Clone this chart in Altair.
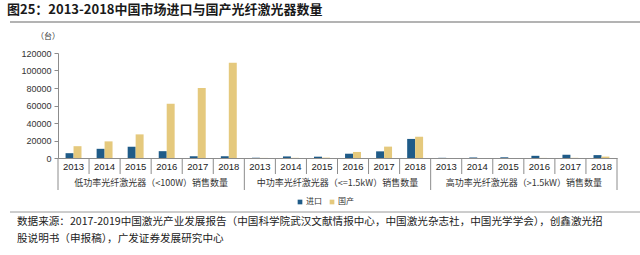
import altair as alt
import pandas as pd

groups = ["低功率光纤激光器（<100W）销售数量",
          "中功率光纤激光器（<=1.5kW）销售数量",
          "高功率光纤激光器（>1.5kW）销售数量"]
years = ["2013", "2014", "2015", "2016", "2017", "2018"]
series = ["进口", "国产"]

low_import = [5500, 10500, 13000, 7800, 2000, 2000]
low_domestic = [13500, 19000, 27000, 62000, 80000, 109000]
mid_import = [300, 1800, 1500, 4900, 7600, 21800]
mid_domestic = [100, 200, 400, 6900, 13000, 24300]
high_import = [200, 600, 800, 2500, 3800, 3300]
high_domestic = [0, 0, 0, 100, 200, 1600]

y_ticks = [0, 20000, 40000, 60000, 80000, 100000, 120000]

title_text = "图25：2013-2018中国市场进口与国产光纤激光器数量"
unit_text = "（台）"
source_1 = "数据来源：2017-2019中国激光产业发展报告（中国科学院武汉文献情报中心，中国激光杂志社，中国光学学会），创鑫激光招"
source_2 = "股说明书（申报稿），广发证券发展研究中心"

BLUE = "#1f5b88"
GOLD = "#e5c97d"
CJK = "Noto Sans CJK SC"
LAT = "Liberation Sans"

# ---- tables ----
imp = [low_import, mid_import, high_import]
dom = [low_domestic, mid_domestic, high_domestic]
rows = []
for gi in range(len(groups)):
    for yi, yr in enumerate(years):
        slot = gi * len(years) + yi
        rows.append({"slot": slot, "year": yr, "series": series[0], "value": imp[gi][yi]})
        rows.append({"slot": slot, "year": yr, "series": series[1], "value": dom[gi][yi]})
bars_df = pd.DataFrame(rows)
slots = list(range(len(groups) * len(years)))

years_df = pd.DataFrame({"slot": slots, "year": [years[s % len(years)] for s in slots]})
groups_df = pd.DataFrame({"slot": [gi * len(years) + 2 for gi in range(len(groups))], "label": groups})
short_sep = pd.DataFrame({"slot": [s for s in slots if s % len(years) != 0]})
long_sep = pd.DataFrame({"slot": [s for s in slots if s % len(years) == 0]})
end_sep = pd.DataFrame({"slot": [slots[-1]]})

W, H = 559, 105
xscale = alt.Scale(domain=slots, paddingInner=0, paddingOuter=0)

bars = alt.Chart(bars_df).mark_bar().encode(
    x=alt.X("slot:O", scale=xscale,
            axis=alt.Axis(labels=False, ticks=False, title=None, domainColor="#8c8c8c")),
    xOffset=alt.XOffset("series:N", scale=alt.Scale(domain=series, paddingInner=0, paddingOuter=0.95)),
    y=alt.Y("value:Q", scale=alt.Scale(domain=[0, 120000], nice=False),
            axis=alt.Axis(values=y_ticks, format="d", title=None, grid=False,
                          labelFont=LAT, labelFontSize=9, labelColor="#333333",
                          domainColor="#8c8c8c", tickColor="#8c8c8c", tickSize=4,
                          labelPadding=3)),
    color=alt.Color("series:N", scale=alt.Scale(domain=series, range=[BLUE, GOLD]),
                    legend=alt.Legend(title=None, orient="none", direction="horizontal",
                                      legendX=238, legendY=145, symbolType="square",
                                      symbolSize=22, symbolStrokeWidth=0,
                                      labelFont=CJK, labelFontSize=8, labelColor="#333333",
                                      labelOffset=2, columnPadding=6)),
)

year_text = alt.Chart(years_df).mark_text(font=LAT, fontSize=9.5, color="#222222", baseline="middle").encode(
    x=alt.X("slot:O", scale=xscale), text="year:N", y=alt.value(114))

group_text = alt.Chart(groups_df).mark_text(font=CJK, fontSize=9, color="#333333", baseline="middle").encode(
    x=alt.X("slot:O", scale=xscale, bandPosition=1), text="label:N", y=alt.value(130))

short_rules = alt.Chart(short_sep).mark_rule(color="#8c8c8c", strokeWidth=1).encode(
    x=alt.X("slot:O", scale=xscale, bandPosition=0), y=alt.value(H), y2=alt.value(H + 16))
long_rules = alt.Chart(long_sep).mark_rule(color="#8c8c8c", strokeWidth=1).encode(
    x=alt.X("slot:O", scale=xscale, bandPosition=0), y=alt.value(H), y2=alt.value(H + 32))
end_rule = alt.Chart(end_sep).mark_rule(color="#8c8c8c", strokeWidth=1).encode(
    x=alt.X("slot:O", scale=xscale, bandPosition=1), y=alt.value(H), y2=alt.value(H + 32))

def label(txt, x, y, size, font=CJK, weight="normal", color="#222222"):
    return alt.Chart(pd.DataFrame({"t": [txt]})).mark_text(
        font=font, fontSize=size, fontWeight=weight, color=color, align="left", baseline="middle"
    ).encode(text="t:N", x=alt.value(x), y=alt.value(y))

title = label(title_text, -51, -43, 13, weight="bold", color="#1a1a1a")
unit = label(unit_text, -22, -16, 8, color="#333333")
src1 = label(source_1, -41, 169, 10.6, color="#222222")
src2 = label(source_2, -41, 186, 10.6, color="#222222")

top_line = alt.Chart(pd.DataFrame({"a": [0]})).mark_rule(color="#9a9a9a", strokeWidth=1.5).encode(
    x=alt.value(-48), x2=alt.value(582), y=alt.value(-31))
bot_line = alt.Chart(pd.DataFrame({"a": [0]})).mark_rule(color="#9a9a9a", strokeWidth=1).encode(
    x=alt.value(-48), x2=alt.value(582), y=alt.value(159))

chart = alt.layer(
    bars, short_rules, long_rules, end_rule, year_text, group_text,
    title, unit, src1, src2, top_line, bot_line
).properties(
    width=W, height=H,
    autosize=alt.AutoSizeParams(type="none"),
    padding={"left": 58, "top": 53, "right": 23, "bottom": 97},
    background="white",
).configure_view(stroke=None)

chart.save("out.html", embed_options={"renderer": "svg", "actions": False})
